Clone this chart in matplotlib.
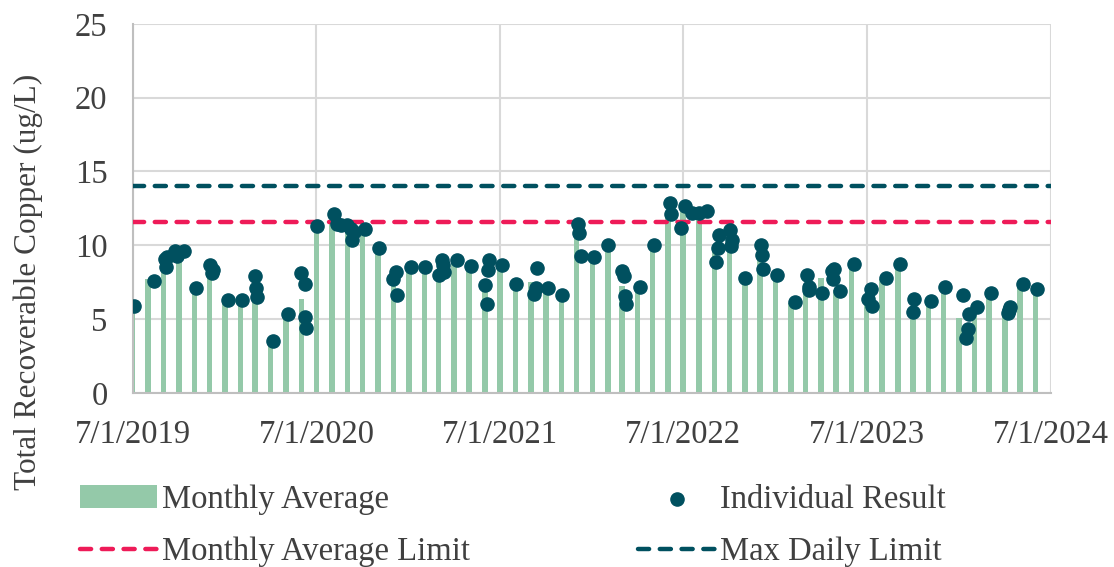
import numpy as np
import pandas as pd
import matplotlib
matplotlib.use("Agg")
import matplotlib.pyplot as plt

# monthly averages, Jul 2019 .. Jun 2024
month_start = pd.date_range("2019-07-01", "2024-06-01", freq="MS")
monthly_avg = [5.8, 7.7, 8.5, 9.4, 7.0, 8.15, 6.23, 6.27, 6.5, 3.45, 5.26, 6.39,
               11.35, 11.65, 11.2, 11.08, 9.84, 7.58, 8.37, 8.45, 7.9, 8.94, 8.56, 7.74,
               8.56, 7.36, 7.5, 7.07, 6.6, 10.63, 9.16, 9.95, 7.25, 7.13, 10.03, 12.29,
               12.4, 12.17, 9.8, 10.03, 7.7, 9.35, 7.88, 6.12, 7.36, 7.81, 7.0, 8.65,
               6.57, 7.74, 8.65, 5.33, 6.12, 7.02, 5.1, 5.67, 6.68, 5.33, 7.25, 6.9]

# individual sample results
sample_dates = [
    "2019-07-03", "2019-08-13", "2019-09-03", "2019-09-05", "2019-09-07",
    "2019-09-24", "2019-09-27", "2019-10-11", "2019-11-04", "2019-12-03",
    "2019-12-07", "2019-12-08", "2020-01-06", "2020-02-03", "2020-03-01",
    "2020-03-03", "2020-03-05", "2020-04-06", "2020-05-05", "2020-06-01",
    "2020-06-08", "2020-06-09", "2020-06-11", "2020-07-02", "2020-08-04",
    "2020-08-10", "2020-08-19", "2020-08-30", "2020-09-07", "2020-09-09",
    "2020-09-14", "2020-10-05", "2020-11-03", "2020-12-01", "2020-12-07",
    "2020-12-09", "2021-01-05", "2021-02-02", "2021-03-02", "2021-03-07",
    "2021-03-09", "2021-03-12", "2021-04-06", "2021-05-04", "2021-06-01",
    "2021-06-05", "2021-06-08", "2021-06-10", "2021-07-06", "2021-08-03",
    "2021-09-06", "2021-09-10", "2021-09-12", "2021-10-05", "2021-11-02",
    "2021-12-04", "2021-12-06", "2021-12-09", "2022-01-05", "2022-02-01",
    "2022-03-01", "2022-03-06", "2022-03-07", "2022-03-10", "2022-04-05",
    "2022-05-03", "2022-06-05", "2022-06-07", "2022-06-27", "2022-07-04",
    "2022-07-19", "2022-08-01", "2022-08-18", "2022-09-05", "2022-09-08",
    "2022-09-10", "2022-10-02", "2022-10-05", "2022-10-07", "2022-11-01",
    "2022-12-03", "2022-12-05", "2022-12-07", "2023-01-03", "2023-02-08",
    "2023-03-05", "2023-03-08", "2023-03-09", "2023-04-04", "2023-04-24",
    "2023-04-26", "2023-04-27", "2023-05-09", "2023-06-06", "2023-07-04",
    "2023-07-09", "2023-07-12", "2023-08-08", "2023-09-05", "2023-10-02",
    "2023-10-04", "2023-11-07", "2023-12-05", "2024-01-09", "2024-01-15",
    "2024-01-18", "2024-01-20", "2024-02-06", "2024-03-05", "2024-04-07",
    "2024-04-09", "2024-04-11", "2024-05-07", "2024-06-04",
]
sample_values = [
    5.9, 7.58, 9.05, 8.55, 9.2,
    9.62, 9.28, 9.62, 7.09, 8.65,
    8.1, 8.3, 6.27, 6.27, 7.92,
    7.13, 6.52, 3.52, 5.37, 8.1,
    7.4, 5.17, 4.42, 11.3, 12.1,
    11.42, 11.35, 11.38, 11.13, 10.36,
    10.9, 11.08, 9.84, 7.74, 8.22,
    6.64, 8.56, 8.53, 7.97, 9.0,
    8.65, 8.2, 8.98, 8.6, 7.3,
    6.05, 8.3, 9.0, 8.65, 7.4,
    6.68, 7.13, 8.49, 7.13, 6.6,
    11.42, 10.86, 9.28, 9.21, 10.0,
    8.26, 7.92, 6.57, 6.0, 7.18,
    10.03, 12.85, 12.1, 11.16, 12.69,
    12.17, 12.17, 12.29, 8.9, 9.8,
    10.7, 11.05, 9.96, 10.37, 7.77,
    10.03, 9.35, 8.38, 8.0, 6.16,
    7.97, 7.15, 7.0, 6.8, 8.26,
    7.74, 8.37, 6.9, 8.71, 6.34,
    7.07, 5.9, 7.81, 8.71, 5.51,
    6.34, 6.23, 7.2, 6.64, 3.75,
    4.31, 5.33, 5.85, 6.75, 5.44,
    5.6, 5.85, 7.36, 7.02,
]

monthly_limit = 11.6
daily_limit = 14.0
period = ["2019-07-01", "2024-07-01"]
year_ticks = ["2019-07-01", "2020-07-01", "2021-07-01", "2022-07-01",
              "2023-07-01", "2024-07-01"]

bar_color = "#94c9a9"
dot_color = "#00505f"
pink = "#ee1b58"
text_color = "#404040"

plt.rcParams["font.family"] = ["Liberation Serif", "DejaVu Serif"]

fig = plt.figure(figsize=(11.14, 5.67), dpi=100)
ax = fig.add_axes([0.119, 0.307, 0.824, 0.651])

start, end = pd.to_datetime(period)
ax.bar(month_start, monthly_avg, width=11, color=bar_color, zorder=2,
       label="Monthly Average")
ax.plot([start, end], [monthly_limit, monthly_limit], color=pink, lw=3.2,
        dashes=(2.5, 2.4), dash_capstyle="round", zorder=3,
        label="Monthly Average Limit")
ax.scatter(pd.to_datetime(sample_dates), sample_values, s=90, color=dot_color,
           zorder=4, label="Individual Result")
ax.plot([start, end], [daily_limit, daily_limit], color=dot_color, lw=3.2,
        dashes=(2.5, 2.4), dash_capstyle="round", zorder=3,
        label="Max Daily Limit")

ax.set_xlim(start, end)
ax.set_ylim(0, 25)
ax.set_yticks(np.arange(0, 26, 5))
ticks = pd.to_datetime(year_ticks)
ax.set_xticks(ticks)
ax.set_xticklabels([f"{t.month}/{t.day}/{t.year}" for t in ticks])

ax.grid(True, color="#d9d9d9", lw=1.5, zorder=0)
ax.set_axisbelow(True)
for s in ["top", "right"]:
    ax.spines[s].set_visible(False)
for s in ["left", "bottom"]:
    ax.spines[s].set_color("#bfbfbf")
    ax.spines[s].set_linewidth(1.5)
ax.tick_params(length=0, labelsize=23.5, colors=text_color)
ax.tick_params(axis="x", pad=19)
ax.tick_params(axis="y", pad=18)

# axis title sits lower than the plot centre, as in the source
fig.text(28 / 1114, 1 - 282 / 567, "Total Recoverable Copper (ug/L)",
         rotation=90, ha="center", va="center", fontsize=22.5, color=text_color)

h, l = ax.get_legend_handles_labels()
order = [l.index("Monthly Average"), l.index("Monthly Average Limit"),
         l.index("Individual Result"), l.index("Max Daily Limit")]
fig.legend([h[i] for i in order], [l[i] for i in order], ncol=2,
           loc="upper left", bbox_to_anchor=(0.0456, 0.198), frameon=False,
           fontsize=23.5, labelcolor=text_color, handlelength=2.36,
           handletextpad=0.15, columnspacing=5.15, labelspacing=0.68)

fig.savefig("out.png", dpi=100)
